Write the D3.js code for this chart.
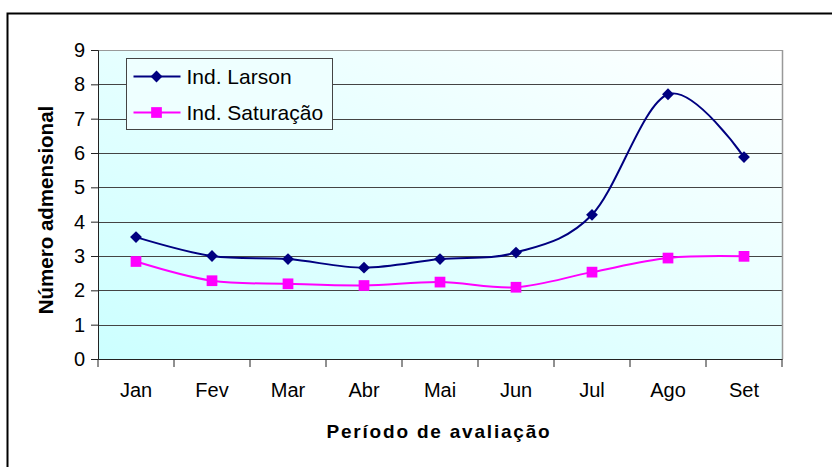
<!DOCTYPE html>
<html>
<head>
<meta charset="utf-8">
<script src="https://cdn.jsdelivr.net/npm/d3@7"></script>
<style>
  body { margin: 0; background: #fff; }
  text { font-family: "Liberation Sans", Arial, sans-serif; }
</style>
</head>
<body>
<svg id="chart" width="832" height="467"></svg>
<script>
// data
var months = ["Jan", "Fev", "Mar", "Abr", "Mai", "Jun", "Jul", "Ago", "Set"];
var larson = [3.55, 3.0, 2.91, 2.66, 2.91, 3.1, 4.2, 7.71, 5.88];
var saturacao = [2.84, 2.28, 2.19, 2.14, 2.24, 2.09, 2.53, 2.94, 2.99];
var yTicks = [0, 1, 2, 3, 4, 5, 6, 7, 8, 9];

var margin = {top: 50, right: 50, bottom: 108, left: 98},
    width = 832 - margin.left - margin.right,
    height = 467 - margin.top - margin.bottom;

var svg = d3.select("#chart");

// outer frame
svg.append("rect")
    .attr("x", 7.5).attr("y", 13.5)
    .attr("width", 840).attr("height", 470)
    .attr("fill", "none").attr("stroke", "#000").attr("stroke-width", 2);

var defs = svg.append("defs");
var grad = defs.append("linearGradient")
    .attr("id", "bg").attr("x1", "0%").attr("y1", "100%").attr("x2", "100%").attr("y2", "0%");
grad.append("stop").attr("offset", "0%").attr("stop-color", "#ccffff");
grad.append("stop").attr("offset", "100%").attr("stop-color", "#ffffff");

var g = svg.append("g")
    .attr("transform", "translate(" + margin.left + "," + margin.top + ")");

var x = d3.scaleBand().domain(months).range([0, width]);
var y = d3.scaleLinear().domain([0, 9]).range([height, 0]);

g.append("rect")
    .attr("width", width).attr("height", height)
    .attr("fill", "url(#bg)");

// grid
g.append("g").selectAll("line")
    .data(yTicks.slice(1))
    .enter().append("line")
    .attr("x1", 0).attr("x2", width)
    .attr("y1", function(d) { return Math.round(y(d)) + 0.5; })
    .attr("y2", function(d) { return Math.round(y(d)) + 0.5; })
    .attr("stroke", function(d) { return d == 9 ? "#999" : "#444"; })
    .attr("stroke-width", 1);

// right border
g.append("line")
    .attr("x1", width + 0.5).attr("x2", width + 0.5)
    .attr("y1", 0).attr("y2", height)
    .attr("stroke", "#999").attr("stroke-width", 1.5);

// y axis
var yAxis = g.append("g")
    .call(d3.axisLeft(y).tickValues(yTicks).tickSize(7).tickPadding(6));
yAxis.select(".domain").attr("stroke", "#222");
yAxis.selectAll(".tick line").attr("stroke", "#222");
yAxis.selectAll("text").style("font-size", "20px").attr("fill", "#000");

// x axis
var xAxis = g.append("g")
    .attr("transform", "translate(0," + height + ")")
    .call(d3.axisBottom(x).tickSize(0).tickPadding(24));
xAxis.select(".domain").attr("stroke", "#222");
xAxis.selectAll("text").style("font-size", "20px").attr("fill", "#000");
xAxis.selectAll(".sep")
    .data(d3.range(months.length + 1))
    .enter().append("line")
    .attr("x1", function(i) { return i * x.bandwidth(); })
    .attr("x2", function(i) { return i * x.bandwidth(); })
    .attr("y1", 0).attr("y2", 8)
    .attr("stroke", "#222");

// axis titles
svg.append("text")
    .attr("x", 439).attr("y", 438)
    .attr("text-anchor", "middle")
    .style("font-size", "19px").style("font-weight", "bold")
    .style("letter-spacing", "1.8px")
    .text("Período de avaliação");

svg.append("text")
    .attr("transform", "translate(53,210) rotate(-90)")
    .attr("text-anchor", "middle")
    .style("font-size", "20.5px").style("font-weight", "bold")
    .text("Número admensional");

// lines
var cx = function(d, i) { return x(months[i]) + x.bandwidth() / 2; };
var line = d3.line()
    .x(cx)
    .y(function(d) { return y(d); })
    .curve(d3.curveCardinal.tension(0));

var series = [
    {name: "Ind. Larson", values: larson, color: "#000080", rot: 45, size: 70},
    {name: "Ind. Saturação", values: saturacao, color: "#ff00ff", rot: 0, size: 115}
];

series.forEach(function(s) {
    g.append("path")
        .datum(s.values)
        .attr("d", line)
        .attr("fill", "none")
        .attr("stroke", s.color)
        .attr("stroke-width", 2);
    g.append("g").selectAll("path")
        .data(s.values)
        .enter().append("path")
        .attr("transform", function(d, i) { return "translate(" + cx(d, i) + "," + y(d) + ") rotate(" + s.rot + ")"; })
        .attr("d", d3.symbol().type(d3.symbolSquare).size(s.size))
        .attr("fill", s.color);
});

// legend
var legend = svg.append("g").attr("transform", "translate(126.5,58.5)");
legend.append("rect")
    .attr("width", 206).attr("height", 71)
    .attr("fill", "#eeffff").attr("stroke", "#444");
series.forEach(function(s, i) {
    var ly = 18 + i * 36;
    legend.append("line")
        .attr("x1", 7).attr("x2", 54)
        .attr("y1", ly).attr("y2", ly)
        .attr("stroke", s.color).attr("stroke-width", 2);
    legend.append("path")
        .attr("transform", "translate(30," + ly + ") rotate(" + s.rot + ")")
        .attr("d", d3.symbol().type(d3.symbolSquare).size(s.size))
        .attr("fill", s.color);
    legend.append("text")
        .attr("x", 60).attr("y", ly + 7)
        .style("font-size", "21px")
        .text(s.name);
});
</script>
</body>
</html>
